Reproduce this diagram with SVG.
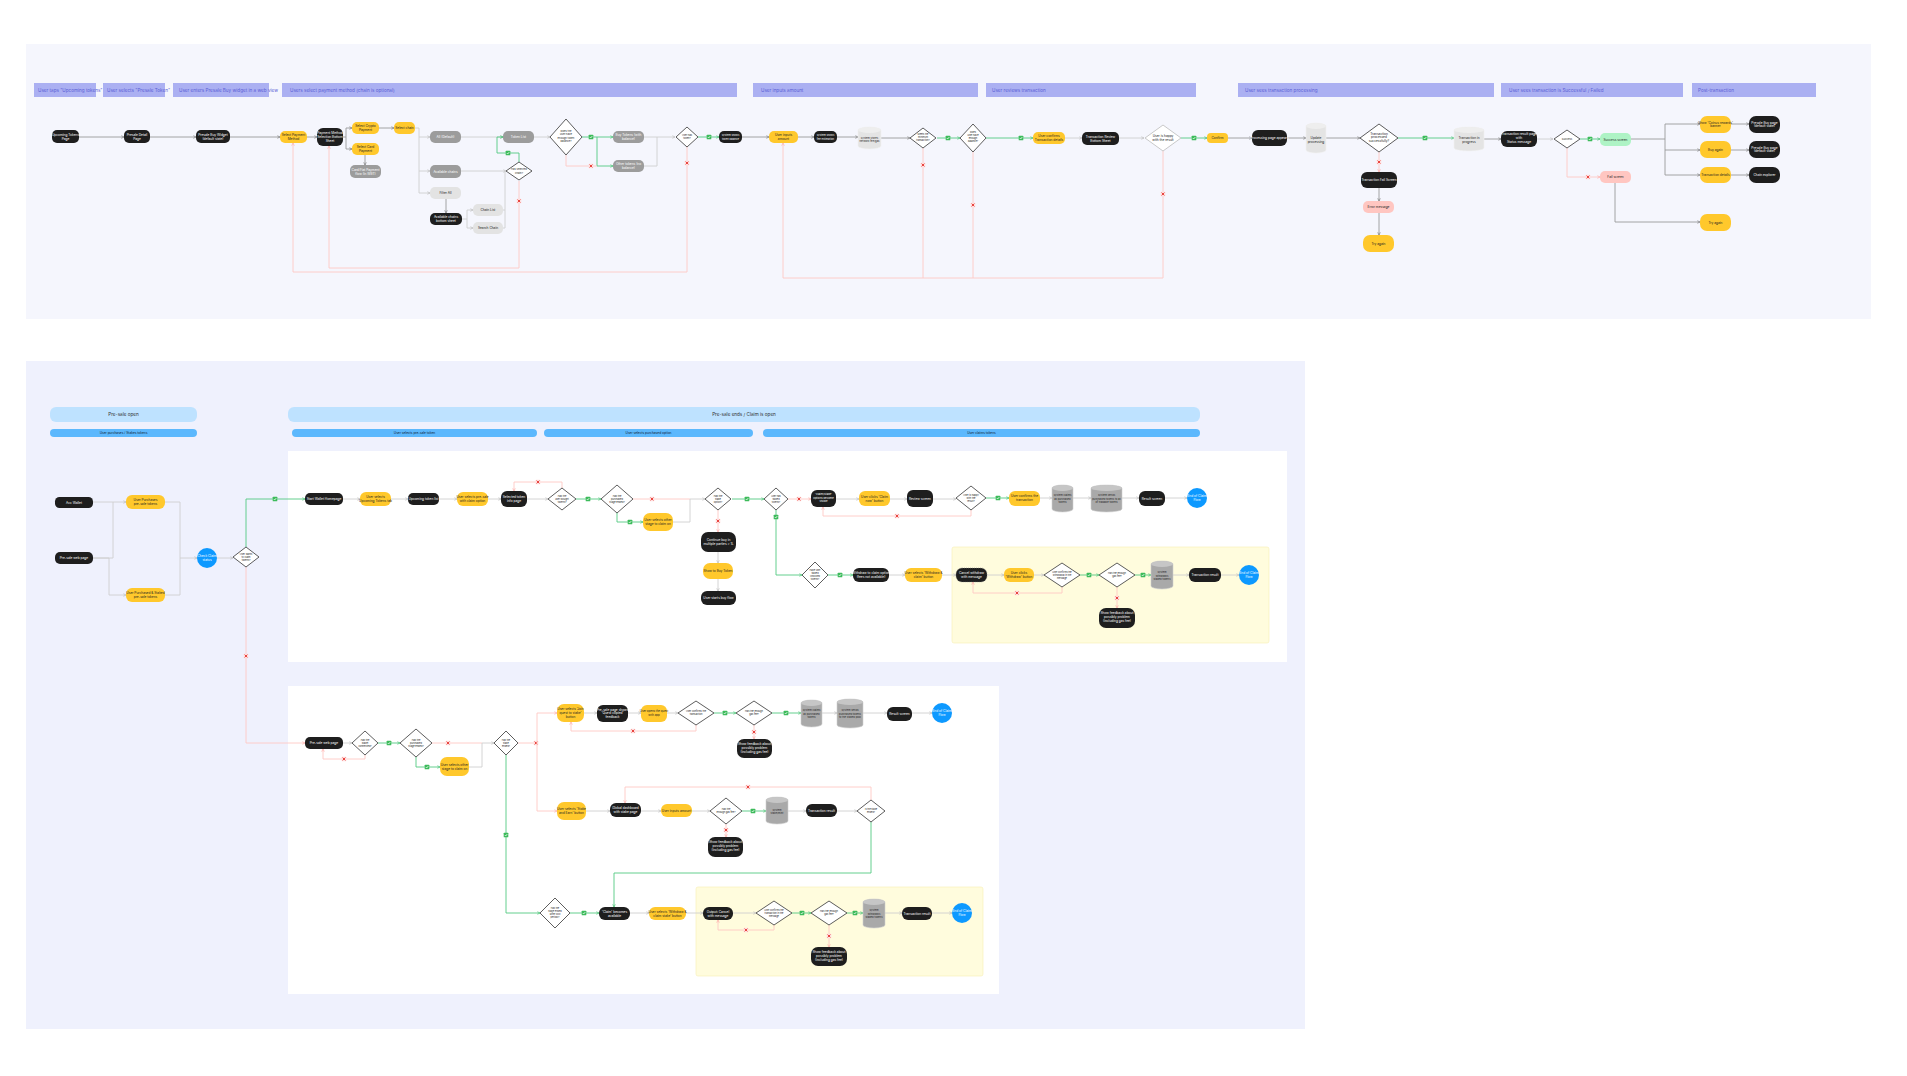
<svg xmlns="http://www.w3.org/2000/svg" xmlns:xlink="http://www.w3.org/1999/xlink" width="1907" height="1076" viewBox="0 0 1907 1076">
<style>
text{font-family:Inter,'Liberation Sans',sans-serif;text-anchor:middle;font-size:3.2px}
.b{fill:#1e1e1e}.y{fill:#ffc82c}.g{fill:#9c9c9c}.lg{fill:#e3e3e3}.p{fill:#ffc6c1}.gr{fill:#aef3c5}
.tw{fill:#fff}.td{fill:#222}
.d{fill:#fff;stroke:#333;stroke-width:0.8}
.dl{fill:#fff;stroke:#bbb;stroke-width:0.8}
.cy{fill:#e4e4e4;stroke:#f2f2f2;stroke-width:0.6}
.cyd{fill:#a9a9a9;stroke:#d0d0d0;stroke-width:0.6}
.hb{fill:#abb0f2}.ht{fill:#5b60d6;font-size:4.6px;text-anchor:start}
.c{fill:none;stroke:#9a9a9a;stroke-width:0.9;marker-end:url(#ag)}
.cn{fill:none;stroke:#9a9a9a;stroke-width:0.9}
.cl{fill:none;stroke:#cfcfcf;stroke-width:0.9;marker-end:url(#al)}
.cln{fill:none;stroke:#cfcfcf;stroke-width:0.9}
.cg{fill:none;stroke:#54c982;stroke-width:0.9;marker-end:url(#agr)}
.cgn{fill:none;stroke:#54c982;stroke-width:0.9}
.cp{fill:none;stroke:#ffc8c4;stroke-width:0.9;marker-end:url(#ap)}
.cpn{fill:none;stroke:#ffc8c4;stroke-width:0.9}
</style>
<defs>
<marker id="ag" viewBox="0 0 6 6" refX="5.5" refY="3" markerWidth="4" markerHeight="4" orient="auto"><path d="M1 0.8 L5.5 3 L1 5.2" fill="none" stroke="#777" stroke-width="1"/></marker>
<marker id="al" viewBox="0 0 6 6" refX="5.5" refY="3" markerWidth="4" markerHeight="4" orient="auto"><path d="M1 0.8 L5.5 3 L1 5.2" fill="none" stroke="#bbb" stroke-width="1"/></marker>
<marker id="agr" viewBox="0 0 6 6" refX="5.5" refY="3" markerWidth="4" markerHeight="4" orient="auto"><path d="M1 0.8 L5.5 3 L1 5.2" fill="none" stroke="#3fbf6c" stroke-width="1"/></marker>
<marker id="ap" viewBox="0 0 6 6" refX="5.5" refY="3" markerWidth="4" markerHeight="4" orient="auto"><path d="M1 0.8 L5.5 3 L1 5.2" fill="none" stroke="#ffa8a2" stroke-width="1"/></marker>
<g id="ok"><rect x="-2.3" y="-2.3" width="4.6" height="4.6" rx="0.6" fill="#3dbb5b"/><path d="M-1.2 0 L-0.3 1 L1.3 -1" stroke="#fff" stroke-width="0.7" fill="none"/></g>
<g id="no"><rect x="-2.3" y="-2.3" width="4.6" height="4.6" rx="0.6" fill="#ffe0e0"/><path d="M-1.4 -1.4 L1.4 1.4 M1.4 -1.4 L-1.4 1.4" stroke="#e5332e" stroke-width="0.9"/></g>
</defs>
<rect width="1907" height="1076" fill="#fff"/>
<rect x="26" y="44" width="1845" height="275" fill="#f5f6fd"/>
<rect x="26" y="361" width="1279" height="668" fill="#eff1fd"/>

<g id="headers-top">
<rect class="hb" x="34" y="83" width="62" height="14"/><text class="ht" x="38" y="91.6">User taps "Upcoming tokens" tab</text>
<rect class="hb" x="103" y="83" width="62" height="14"/><text class="ht" x="107" y="91.6">User selects "Presale Token"</text>
<rect class="hb" x="173" y="83" width="96" height="14"/><text class="ht" x="179" y="91.6">User enters Presale Buy widget in a web view</text>
<rect class="hb" x="282" y="83" width="455" height="14"/><text class="ht" x="290" y="91.6">Users select payment method (chain is optional)</text>
<rect class="hb" x="753" y="83" width="225" height="14"/><text class="ht" x="761" y="91.6">User inputs amount</text>
<rect class="hb" x="986" y="83" width="210" height="14"/><text class="ht" x="992" y="91.6">User reviews transaction</text>
<rect class="hb" x="1238" y="83" width="256" height="14"/><text class="ht" x="1245" y="91.6">User sees transaction processing</text>
<rect class="hb" x="1501" y="83" width="182" height="14"/><text class="ht" x="1509" y="91.6">User sees transaction is Successful / Failed</text>
<rect class="hb" x="1692" y="83" width="124" height="14"/><text class="ht" x="1698" y="91.6">Post-transaction</text>
</g>

<g id="connectors-top">
<path class="c" d="M79 137H124"/><path class="c" d="M150 137H196"/><path class="c" d="M230 137H280"/><path class="c" d="M307 137H317"/>
<path class="c" d="M343 137H346V128H352"/><path class="c" d="M346 137V149H352"/>
<path class="c" d="M379 128H394"/><path class="c" d="M365 155V165"/>
<path class="cl" d="M415 128H419V137H430"/><path class="cl" d="M419 137V171H430"/><path class="cl" d="M419 171V193H430"/>
<path class="cl" d="M461 137H503"/><path class="cl" d="M461 171H506"/><path class="c" d="M446 199V213"/>
<path class="cl" d="M462 219H467V210H473"/><path class="cl" d="M467 219V228H473"/><path class="cln" d="M503 228H505V172"/><path class="cln" d="M503 210H505"/>
<path class="cg" d="M519 162V153H497V137H503"/><use href="#ok" x="508" y="153"/>
<path class="cp" d="M519 181V268H329V146"/><use href="#no" x="519" y="201"/>
<path class="cl" d="M534 137H550"/>
<path class="cg" d="M582 137H613"/><use href="#ok" x="591" y="137"/>
<path class="cg" d="M597 137V166H613"/><path class="cpn" d="M566 155V166H597"/><use href="#no" x="591" y="166"/>
<path class="cl" d="M644 137H675"/><path class="cln" d="M644 166H657V137"/>
<path class="cg" d="M698 137H719"/><use href="#ok" x="709" y="137"/>
<path class="cp" d="M687 146V272H293V143"/><use href="#no" x="687" y="163"/>
<path class="c" d="M742 137H769"/><path class="c" d="M798 137H814"/><path class="c" d="M837 137H858"/><path class="c" d="M881 138H910"/>
<path class="cg" d="M937 138H960"/><use href="#ok" x="948" y="138"/>
<path class="cp" d="M923 148V278H783V143"/><path class="cpn" d="M973 151V278H923"/><path class="cpn" d="M1163 151V278H973"/>
<use href="#no" x="923" y="165"/><use href="#no" x="973" y="205"/><use href="#no" x="1163" y="194"/>
<path class="cg" d="M986 138H1033"/><use href="#ok" x="1021" y="138"/>
<path class="cl" d="M1065 138H1082"/><path class="cl" d="M1119 138H1144"/>
<path class="cg" d="M1181 138H1207"/><use href="#ok" x="1194" y="138"/>
<path class="c" d="M1228 138H1252"/><path class="c" d="M1287 138H1306"/><path class="c" d="M1326 138H1360"/>
<path class="cg" d="M1398 138H1454"/><use href="#ok" x="1425" y="138"/>
<path class="cp" d="M1379 152V172"/><use href="#no" x="1379" y="162"/>
<path class="c" d="M1379 188V201"/><path class="c" d="M1379 213V235"/>
<path class="c" d="M1484 139H1501"/><path class="cl" d="M1537 139H1553"/>
<path class="cg" d="M1580 139H1600"/><use href="#ok" x="1590" y="139"/>
<path class="cp" d="M1567 148V177H1600"/><use href="#no" x="1588" y="177"/>
<path class="cn" d="M1631 139H1665"/><path class="c" d="M1665 139V124H1700"/><path class="c" d="M1665 139V150H1700"/><path class="c" d="M1665 150V175H1700"/>
<path class="c" d="M1731 124H1749"/><path class="c" d="M1731 150H1749"/><path class="c" d="M1731 175H1749"/>
<path class="c" d="M1615 183V222H1700"/>
</g>

<g id="nodes-top">
<g id="t-upcoming"><rect class="b" x="52" y="130" width="27" height="13" rx="5"/><text class="tw" x="65.5" y="135.8">Upcoming Tokens</text><text class="tw" x="65.5" y="139.6">Page</text></g>
<g id="t-detail"><rect class="b" x="124" y="130" width="26" height="13" rx="5"/><text class="tw" x="137" y="135.8">Presale Detail</text><text class="tw" x="137" y="139.6">Page</text></g>
<g id="t-widget"><rect class="b" x="196" y="130" width="34" height="13" rx="5"/><text class="tw" x="213" y="135.8">Presale Buy Widget</text><text class="tw" x="213" y="139.6">(default state)</text></g>
<g id="t-selpay"><rect class="y" x="280" y="131" width="27" height="12" rx="5"/><text class="td" x="293.5" y="136.3">Select Payment</text><text class="td" x="293.5" y="140.1">Method</text></g>
<g id="t-sheet"><rect class="b" x="317" y="128" width="26" height="18" rx="6"/><text class="tw" x="330" y="134">Payment Method</text><text class="tw" x="330" y="137.8">Selection Bottom</text><text class="tw" x="330" y="141.6">Sheet</text></g>
<g id="t-crypto"><rect class="y" x="352" y="122" width="27" height="12" rx="5"/><text class="td" x="365.5" y="127.3">Select Crypto</text><text class="td" x="365.5" y="131.1">Payment</text></g>
<g id="t-card"><rect class="y" x="352" y="143" width="27" height="12" rx="5"/><text class="td" x="365.5" y="148.3">Select Card</text><text class="td" x="365.5" y="152.1">Payment</text></g>
<g id="t-fiat"><rect class="g" x="350" y="165" width="31" height="13" rx="5"/><text class="tw" x="365.5" y="170.8">Card/Fiat Payment</text><text class="tw" x="365.5" y="174.6">flow (in WBT)</text></g>
<g id="t-chain"><rect class="y" x="394" y="122" width="21" height="12" rx="5"/><text class="td" x="404.5" y="129.2">Select chain</text></g>
<g id="t-all"><rect class="g" x="430" y="131" width="31" height="12" rx="5"/><text class="tw" x="445.5" y="138.2">All (Default)</text></g>
<g id="t-avail"><rect class="g" x="430" y="165" width="31" height="13" rx="5"/><text class="tw" x="445.5" y="172.7">Available chains</text></g>
<g id="t-filter"><rect class="lg" x="430" y="187" width="31" height="12" rx="5"/><text class="td" x="445.5" y="194.2">Filter All</text></g>
<g id="t-availsheet"><rect class="b" x="430" y="213" width="32" height="12" rx="5"/><text class="tw" x="446" y="218.3">Available chains</text><text class="tw" x="446" y="222.1">bottom sheet</text></g>
<g id="t-chainlist"><rect class="lg" x="473" y="204" width="30" height="12" rx="5"/><text class="td" x="488" y="211.2">Chain List</text></g>
<g id="t-search"><rect class="lg" x="473" y="222" width="30" height="12" rx="5"/><text class="td" x="488" y="229.2">Search Chain</text></g>
<g id="t-tokenlist"><rect class="g" x="503" y="131" width="31" height="12" rx="5"/><text class="tw" x="518.5" y="138.2">Token List</text></g>
<g id="t-hassel"><path class="d" d="M519 162L532 171L519 180L506 171Z"/><text class="td" x="519" y="170.2" style="font-size:2.6px">Has selected</text><text class="td" x="519" y="173.6" style="font-size:2.6px">chain?</text></g>
<g id="t-enough"><path class="d" d="M566 119L582 137L566 155L550 137Z"/><text class="td" x="566" y="132" style="font-size:2.6px">Does the</text><text class="td" x="566" y="135.4" style="font-size:2.6px">user have</text><text class="td" x="566" y="138.8" style="font-size:2.6px">enough token</text><text class="td" x="566" y="142.2" style="font-size:2.6px">balance?</text></g>
<g id="t-buytok"><rect class="g" x="613" y="131" width="31" height="12" rx="5"/><text class="tw" x="628.5" y="136.3">Buy Tokens (with</text><text class="tw" x="628.5" y="140.1">balance)</text></g>
<g id="t-othertok"><rect class="g" x="613" y="160" width="31" height="12" rx="5"/><text class="tw" x="628.5" y="165.3">Other tokens (no</text><text class="tw" x="628.5" y="169.1">balance)</text></g>
<g id="t-hastok"><path class="d" d="M687 127L698 137L687 147L676 137Z"/><text class="td" x="687" y="136.2" style="font-size:2.4px">User has</text><text class="td" x="687" y="139.4" style="font-size:2.4px">token?</text></g>
<g id="t-showbal"><rect class="b" x="719" y="131" width="23" height="12" rx="5"/><text class="tw" x="730.5" y="136.3" style="font-size:2.6px">System shows</text><text class="tw" x="730.5" y="139.8" style="font-size:2.6px">token balance</text></g>
<g id="t-inputamt"><rect class="y" x="769" y="131" width="29" height="12" rx="5"/><text class="td" x="783.5" y="136.3">User inputs</text><text class="td" x="783.5" y="140.1">amount</text></g>
<g id="t-showfee"><rect class="b" x="814" y="131" width="23" height="12" rx="5"/><text class="tw" x="825.5" y="136.3" style="font-size:2.6px">System shows</text><text class="tw" x="825.5" y="139.8" style="font-size:2.6px">fee estimation</text></g>
<g id="t-storefee"><path class="cy" d="M858 130A11.5 3 0 0 1 881 130V146A11.5 3 0 0 1 858 146Z"/><ellipse cx="869.5" cy="130" rx="11.5" ry="3" fill="#eee"/><text class="td" x="869.5" y="138.5" style="font-size:2.6px">System stores</text><text class="td" x="869.5" y="142" style="font-size:2.6px">network fee/gas</text></g>
<g id="t-minimum"><path class="d" d="M923 128L936 138L923 148L910 138Z"/><text class="td" x="923" y="135.3" style="font-size:2.3px">Meets the</text><text class="td" x="923" y="138.3" style="font-size:2.3px">minimum</text><text class="td" x="923" y="141.3" style="font-size:2.3px">transaction?</text></g>
<g id="t-enoughbal"><path class="d" d="M973 124L986 138L973 152L960 138Z"/><text class="td" x="973" y="133.3" style="font-size:2.4px">Does</text><text class="td" x="973" y="136.3" style="font-size:2.4px">user have</text><text class="td" x="973" y="139.3" style="font-size:2.4px">enough</text><text class="td" x="973" y="142.3" style="font-size:2.4px">balance?</text></g>
<g id="t-confirmdet"><rect class="y" x="1033" y="132" width="32" height="12" rx="5"/><text class="td" x="1049" y="137.3">User confirms</text><text class="td" x="1049" y="141.1">Transaction details</text></g>
<g id="t-review"><rect class="b" x="1082" y="132" width="37" height="13" rx="5"/><text class="tw" x="1100.5" y="137.8">Transaction Review</text><text class="tw" x="1100.5" y="141.6">Bottom Sheet</text></g>
<g id="t-happy"><path class="dl" d="M1163 125L1181 138L1163 151L1145 138Z"/><text class="td" x="1163" y="137.2">User is happy</text><text class="td" x="1163" y="141">with the result</text></g>
<g id="t-confirm"><rect class="y" x="1207" y="133" width="21" height="10" rx="4"/><text class="td" x="1217.5" y="139.2">Confirm</text></g>
<g id="t-processing"><rect class="b" x="1252" y="130" width="35" height="16" rx="6"/><text class="tw" x="1269.5" y="139.2">Processing page appears</text></g>
<g id="t-update"><path class="cy" d="M1306 126A10 3 0 0 1 1326 126V150A10 3 0 0 1 1306 150Z"/><ellipse cx="1316" cy="126" rx="10" ry="3" fill="#eee"/><text class="td" x="1316" y="139">Update</text><text class="td" x="1316" y="142.8">processing</text></g>
<g id="t-processed"><path class="d" d="M1379 124L1398 138L1379 152L1360 138Z"/><text class="td" x="1379" y="134.6">Transaction</text><text class="td" x="1379" y="138.4">processed</text><text class="td" x="1379" y="142.2">successfully?</text></g>
<g id="t-failscr"><rect class="b" x="1361" y="172" width="36" height="16" rx="6"/><text class="tw" x="1379" y="181.2">Transaction Fail Screen</text></g>
<g id="t-errmsg"><rect class="p" x="1363" y="201" width="31" height="12" rx="5"/><text class="td" x="1378.5" y="208.2">Error message</text></g>
<g id="t-tryagain1"><rect class="y" x="1363" y="235" width="31" height="17" rx="7"/><text class="td" x="1378.5" y="244.6">Try again</text></g>
<g id="t-inprogress"><path class="cy" d="M1454 130A15 3 0 0 1 1484 130V148A15 3 0 0 1 1454 148Z"/><ellipse cx="1469" cy="130" rx="15" ry="3" fill="#eee"/><text class="td" x="1469" y="139.4">Transaction in</text><text class="td" x="1469" y="143.2">progress</text></g>
<g id="t-resultpage"><rect class="b" x="1501" y="131" width="36" height="16" rx="6"/><text class="tw" x="1519" y="135.4">Transaction result page</text><text class="tw" x="1519" y="139.2">with</text><text class="tw" x="1519" y="143">Status message</text></g>
<g id="t-success"><path class="d" d="M1567 130L1580 139L1567 148L1554 139Z"/><text class="td" x="1567" y="140" style="font-size:2.6px">Success</text></g>
<g id="t-successscr"><rect class="gr" x="1600" y="133" width="31" height="13" rx="5"/><text class="td" x="1615.5" y="140.6">Success screen</text></g>
<g id="t-failscr2"><rect class="p" x="1600" y="171" width="31" height="12" rx="5"/><text class="td" x="1615.5" y="178.2">Fail screen</text></g>
<g id="t-banner"><rect class="y" x="1700" y="116" width="31" height="17" rx="7"/><text class="td" x="1715.5" y="123.6">Show 'Coinus rewards'</text><text class="td" x="1715.5" y="127.4">banner</text></g>
<g id="t-buyagain"><rect class="y" x="1700" y="141" width="31" height="17" rx="7"/><text class="td" x="1715.5" y="150.6">Buy again</text></g>
<g id="t-txdetails"><rect class="y" x="1700" y="167" width="31" height="16" rx="7"/><text class="td" x="1715.5" y="176.2">Transaction details</text></g>
<g id="t-buypage1"><rect class="b" x="1749" y="116" width="31" height="17" rx="7"/><text class="tw" x="1764.5" y="123.6">Presale Buy page</text><text class="tw" x="1764.5" y="127.4">(default state)</text></g>
<g id="t-buypage2"><rect class="b" x="1749" y="141" width="31" height="17" rx="7"/><text class="tw" x="1764.5" y="148.6">Presale Buy page</text><text class="tw" x="1764.5" y="152.4">(default state)</text></g>
<g id="t-explorer"><rect class="b" x="1749" y="167" width="31" height="16" rx="7"/><text class="tw" x="1764.5" y="176.2">Chain explorer</text></g>
<g id="t-tryagain2"><rect class="y" x="1700" y="214" width="31" height="17" rx="7"/><text class="td" x="1715.5" y="223.6">Try again</text></g>
</g>

<g id="headers-bottom">
<rect x="50" y="407" width="147" height="15" rx="6" fill="#bee2ff"/><text x="123.5" y="416.3" style="font-size:4.6px;fill:#333">Pre-sale open</text>
<rect x="288" y="407" width="912" height="15" rx="6" fill="#bee2ff"/><text x="744" y="416.3" style="font-size:4.6px;fill:#333">Pre-sale ends / Claim is open</text>
<rect x="50" y="429" width="147" height="8" rx="4" fill="#5cb8fd"/><text x="123.5" y="434.2" style="fill:#123">User purchases / Stakes tokens</text>
<rect x="292" y="429" width="245" height="8" rx="4" fill="#5cb8fd"/><text x="414.5" y="434.2" style="fill:#123">User selects pre-sale token</text>
<rect x="544" y="429" width="209" height="8" rx="4" fill="#5cb8fd"/><text x="648.5" y="434.2" style="fill:#123">User selects purchased option</text>
<rect x="763" y="429" width="437" height="8" rx="4" fill="#5cb8fd"/><text x="981.5" y="434.2" style="fill:#123">User claims tokens</text>
</g>
<rect x="288" y="451" width="999" height="211" fill="#fff"/>
<rect x="288" y="686" width="711" height="308" fill="#fff"/>
<rect x="952" y="547" width="317" height="96" rx="2" fill="#fffcdd" stroke="#f6efb4" stroke-width="0.6"/>
<rect x="696" y="887" width="287" height="89" rx="2" fill="#fffcdd" stroke="#f6efb4" stroke-width="0.6"/>

<g id="connectors-bottom">
<path class="cl" d="M93 502H126"/><path class="cln" d="M93 558H113V502"/><path class="cl" d="M93 558H109V595H126"/>
<path class="cln" d="M165 502H180V558"/><path class="cl" d="M165 595H180V558H197"/>
<path class="cl" d="M217 558H233"/>
<path class="cg" d="M246 547V499H305"/><use href="#ok" x="275" y="499"/>
<path class="cp" d="M246 567V743H305"/><use href="#no" x="246" y="656"/>
<path class="cl" d="M343 499H360"/><path class="cl" d="M391 499H408"/><path class="cl" d="M439 499H457"/><path class="cl" d="M488 499H501"/><path class="cl" d="M527 499H548"/>
<path class="cp" d="M562 488V482H514V491"/><use href="#no" x="538" y="482"/>
<path class="cg" d="M576 499H601"/><use href="#ok" x="588" y="499"/>
<path class="cpn" d="M633 499H690"/><use href="#no" x="652" y="499"/><path class="cl" d="M673 522H690V499H705"/>
<path class="cg" d="M617 513V522H643"/><use href="#ok" x="630" y="522"/>
<path class="cp" d="M718 510V532"/><use href="#no" x="718" y="521"/>
<path class="cl" d="M718 552V563"/><path class="cl" d="M718 579V591"/>
<path class="cg" d="M732 499H764"/><use href="#ok" x="747" y="499"/>
<path class="cp" d="M788 499H811"/><use href="#no" x="799" y="499"/>
<path class="cl" d="M836 499H859"/><path class="cl" d="M890 499H907"/><path class="cl" d="M933 499H956"/>
<path class="cp" d="M971 510V516H823V507"/><use href="#no" x="897" y="516"/>
<path class="cg" d="M986 498H1009"/><use href="#ok" x="998" y="498"/>
<path class="cl" d="M1040 498H1052"/><path class="cl" d="M1073 498H1091"/><path class="cl" d="M1122 498H1139"/><path class="cl" d="M1165 498H1187"/>
<path class="cg" d="M776 510V575H802"/><use href="#ok" x="776" y="517"/>
<path class="cg" d="M828 575H853"/><use href="#ok" x="840" y="575"/>
<path class="cl" d="M889 575H905"/><path class="cl" d="M942 575H956"/><path class="cl" d="M987 575H1004"/><path class="cl" d="M1034 575H1044"/>
<path class="cp" d="M1062 587V593H973V582"/><use href="#no" x="1017" y="593"/>
<path class="cg" d="M1080 575H1099"/><use href="#ok" x="1089" y="575"/>
<path class="cg" d="M1135 575H1151"/><use href="#ok" x="1143" y="575"/>
<path class="cp" d="M1117 587V608"/><use href="#no" x="1117" y="598"/>
<path class="cl" d="M1173 575H1189"/><path class="cl" d="M1221 575H1239"/>

<path class="cl" d="M343 743H352"/>
<path class="cp" d="M365 755V759H323V749"/><use href="#no" x="344" y="759"/>
<path class="cg" d="M378 743H400"/><use href="#ok" x="389" y="743"/>
<path class="cpn" d="M432 743H482"/><use href="#no" x="448" y="743"/><path class="cl" d="M469 767H482V743H494"/>
<path class="cg" d="M416 757V767H440"/><use href="#ok" x="427" y="767"/>
<path class="cpn" d="M518 743H537"/><use href="#no" x="536" y="743"/><path class="cp" d="M537 743V713H557"/><path class="cp" d="M537 743V811H557"/>
<path class="cl" d="M584 713H597"/><path class="cl" d="M628 713H641"/><path class="cl" d="M667 713H678"/>
<path class="cp" d="M696 725V731H571V722"/><use href="#no" x="633" y="731"/>
<path class="cg" d="M714 713H736"/><use href="#ok" x="725" y="713"/>
<path class="cp" d="M754 725V739"/><use href="#no" x="754" y="732"/>
<path class="cg" d="M772 713H801"/><use href="#ok" x="786" y="713"/>
<path class="cl" d="M822 713H837"/><path class="cl" d="M863 713H887"/><path class="cl" d="M912 713H932"/>
<path class="cl" d="M586 811H610"/><path class="cl" d="M641 811H661"/><path class="cl" d="M692 811H710"/>
<path class="cp" d="M726 824V837"/><use href="#no" x="726" y="830"/>
<path class="cg" d="M742 811H766"/><use href="#ok" x="753" y="811"/>
<path class="cl" d="M788 811H806"/><path class="cl" d="M837 811H857"/>
<path class="cp" d="M871 800V787H625V803"/><use href="#no" x="748" y="787"/>
<path class="cg" d="M871 822V873H614V907"/>
<path class="cg" d="M506 755V913H540"/><use href="#ok" x="506" y="835"/>
<path class="cg" d="M570 913H599"/><use href="#ok" x="584" y="913"/>
<path class="cl" d="M630 913H649"/><path class="cl" d="M686 913H703"/><path class="cl" d="M733 913H756"/>
<path class="cp" d="M774 925V930H718V920"/><use href="#no" x="746" y="930"/>
<path class="cg" d="M792 913H811"/><use href="#ok" x="802" y="913"/>
<path class="cp" d="M829 925V947"/><use href="#no" x="829" y="936"/>
<path class="cg" d="M847 913H863"/><use href="#ok" x="855" y="913"/>
<path class="cl" d="M885 913H902"/><path class="cl" d="M932 913H952"/>
</g>

<g id="nodes-bottom">
<g id="b-wallet"><rect class="b" x="55" y="497" width="38" height="11" rx="4.5"/><text class="tw" x="74" y="503.6">Acc Wallet</text></g>
<g id="b-web"><rect class="b" x="55" y="552" width="38" height="12" rx="5"/><text class="tw" x="74" y="559.2">Pre-sale web page</text></g>
<g id="b-purch"><rect class="y" x="126" y="495" width="39" height="14" rx="6"/><text class="td" x="145.5" y="501.3">User Purchases</text><text class="td" x="145.5" y="505.1">pre-sale tokens</text></g>
<g id="b-staked"><rect class="y" x="126" y="588" width="39" height="14" rx="6"/><text class="td" x="145.5" y="594.3">User Purchased &amp; Staked</text><text class="td" x="145.5" y="598.1">pre-sale tokens</text></g>
<g id="b-check"><circle cx="207" cy="558" r="10" fill="#0d99ff"/><text class="tw" x="207" y="557.2">Check Claim</text><text class="tw" x="207" y="561">status</text></g>
<g id="b-wants"><path class="d" d="M246 547L259 557L246 567L233 557Z"/><text class="td" x="246" y="554.6" style="font-size:2.4px">User wants</text><text class="td" x="246" y="557.6" style="font-size:2.4px">to claim</text><text class="td" x="246" y="560.6" style="font-size:2.4px">tokens?</text></g>
<g id="b-home"><rect class="b" x="305" y="493" width="38" height="12" rx="5"/><text class="tw" x="324" y="500.2">Start Wallet Homepage</text></g>
<g id="b-seltab"><rect class="y" x="360" y="492" width="31" height="14" rx="6"/><text class="td" x="375.5" y="498.3">User selects</text><text class="td" x="375.5" y="502.1">Upcoming Tokens tab</text></g>
<g id="b-list"><rect class="b" x="408" y="493" width="31" height="12" rx="5"/><text class="tw" x="423.5" y="500.2">Upcoming token list</text></g>
<g id="b-selpre"><rect class="y" x="457" y="492" width="31" height="14" rx="6"/><text class="td" x="472.5" y="498.3">User selects pre-sale</text><text class="td" x="472.5" y="502.1">with claim option</text></g>
<g id="b-info"><rect class="b" x="501" y="491" width="26" height="16" rx="6"/><text class="tw" x="514" y="498.3">Selected token</text><text class="tw" x="514" y="502.1">info page</text></g>
<g id="b-dA"><path class="d" d="M562 488L576 499L562 510L548 499Z"/><text class="td" x="562" y="496.6" style="font-size:2.4px">Has the</text><text class="td" x="562" y="499.6" style="font-size:2.4px">user bought</text><text class="td" x="562" y="502.6" style="font-size:2.4px">tokens?</text></g>
<g id="b-dB"><path class="d" d="M617 485L633 499L617 513L601 499Z"/><text class="td" x="617" y="496.6" style="font-size:2.4px">Has the</text><text class="td" x="617" y="499.6" style="font-size:2.4px">purchased</text><text class="td" x="617" y="502.6" style="font-size:2.4px">stage ended?</text></g>
<g id="b-other"><rect class="y" x="643" y="513" width="30" height="18" rx="7"/><text class="td" x="658" y="521.3">User selects other</text><text class="td" x="658" y="525.1">stage to claim on</text></g>
<g id="b-dC"><path class="d" d="M718 488L731 499L718 510L705 499Z"/><text class="td" x="718" y="496.6" style="font-size:2.4px">Has the</text><text class="td" x="718" y="499.6" style="font-size:2.4px">stake</text><text class="td" x="718" y="502.6" style="font-size:2.4px">option?</text></g>
<g id="b-continue"><rect class="b" x="701" y="532" width="35" height="20" rx="7"/><text class="tw" x="718.5" y="541.3">Continue buy in</text><text class="tw" x="718.5" y="545.1">multiple parties &gt; 1L</text></g>
<g id="b-showbuy"><rect class="y" x="703" y="563" width="30" height="16" rx="7"/><text class="td" x="718" y="572.2">Show to Buy Token</text></g>
<g id="b-startbuy"><rect class="b" x="701" y="591" width="35" height="14" rx="6"/><text class="tw" x="718.5" y="599.2">User starts buy flow</text></g>
<g id="b-dD"><path class="d" d="M776 488L788 499L776 510L764 499Z"/><text class="td" x="776" y="496.6" style="font-size:2.3px">User has</text><text class="td" x="776" y="499.6" style="font-size:2.3px">staked</text><text class="td" x="776" y="502.6" style="font-size:2.3px">tokens?</text></g>
<g id="b-claimopt"><rect class="b" x="811" y="490" width="25" height="17" rx="6"/><text class="tw" x="823.5" y="495.4" style="font-size:2.7px">'Claim/Stake'</text><text class="tw" x="823.5" y="498.8" style="font-size:2.7px">options become</text><text class="tw" x="823.5" y="502.2" style="font-size:2.7px">visible</text></g>
<g id="b-claimnow"><rect class="y" x="859" y="491" width="31" height="15" rx="6"/><text class="td" x="874.5" y="497.8">User clicks 'Claim</text><text class="td" x="874.5" y="501.6">now' button</text></g>
<g id="b-review"><rect class="b" x="907" y="490" width="26" height="17" rx="6"/><text class="tw" x="920" y="499.6">Review screen</text></g>
<g id="b-dE"><path class="d" d="M971 486L986 498L971 510L956 498Z"/><text class="td" x="971" y="495.6" style="font-size:2.4px">User is happy</text><text class="td" x="971" y="498.6" style="font-size:2.4px">with the</text><text class="td" x="971" y="501.6" style="font-size:2.4px">result?</text></g>
<g id="b-confirm"><rect class="y" x="1009" y="491" width="31" height="15" rx="6"/><text class="td" x="1024.5" y="497.3">User confirms the</text><text class="td" x="1024.5" y="501.1">transaction</text></g>
<g id="b-cyA"><path class="cyd" d="M1052 488A10.5 3 0 0 1 1073 488V509A10.5 3 0 0 1 1052 509Z"/><ellipse cx="1062.5" cy="488" rx="10.5" ry="3" fill="#c6c6c6"/><text class="td" x="1062.5" y="496.4" style="font-size:2.6px">System claims</text><text class="td" x="1062.5" y="499.8" style="font-size:2.6px">all purchased</text><text class="td" x="1062.5" y="503.2" style="font-size:2.6px">tokens</text></g>
<g id="b-cyB"><path class="cyd" d="M1091 488A15.5 3 0 0 1 1122 488V509A15.5 3 0 0 1 1091 509Z"/><ellipse cx="1106.5" cy="488" rx="15.5" ry="3" fill="#c6c6c6"/><text class="td" x="1106.5" y="496.4" style="font-size:2.6px">System sends</text><text class="td" x="1106.5" y="499.8" style="font-size:2.6px">purchased tokens to all</text><text class="td" x="1106.5" y="503.2" style="font-size:2.6px">of tradable tokens</text></g>
<g id="b-result1"><rect class="b" x="1139" y="491" width="26" height="15" rx="6"/><text class="tw" x="1152" y="499.6">Result screen</text></g>
<g id="b-end1"><circle cx="1197" cy="498" r="10" fill="#0d99ff"/><text class="tw" x="1197" y="497.2">End of Claim</text><text class="tw" x="1197" y="501">Flow</text></g>
<g id="b-dF"><path class="d" d="M815 562L828 575L815 588L802 575Z"/><text class="td" x="815" y="571.2" style="font-size:2.3px">Have user</text><text class="td" x="815" y="574.2" style="font-size:2.3px">staked</text><text class="td" x="815" y="577.2" style="font-size:2.3px">unlocked</text><text class="td" x="815" y="580.2" style="font-size:2.3px">tokens?</text></g>
<g id="b-withdrawopt"><rect class="b" x="853" y="568" width="36" height="14" rx="6"/><text class="tw" x="871" y="574.3">Withdraw to claim option</text><text class="tw" x="871" y="578.1">(fees not available)</text></g>
<g id="b-selwithdraw"><rect class="y" x="905" y="568" width="37" height="14" rx="6"/><text class="td" x="923.5" y="574.3">User selects 'Withdraw &amp;</text><text class="td" x="923.5" y="578.1">claim' button</text></g>
<g id="b-cancel"><rect class="b" x="956" y="568" width="31" height="14" rx="6" stroke="#888" stroke-width="0.5" stroke-dasharray="1 1"/><text class="tw" x="971.5" y="574.3">Cancel withdraw</text><text class="tw" x="971.5" y="578.1">with message</text></g>
<g id="b-clickwithdraw"><rect class="y" x="1004" y="568" width="30" height="14" rx="6"/><text class="td" x="1019" y="574.3">User clicks</text><text class="td" x="1019" y="578.1">'Withdraw' button</text></g>
<g id="b-dG"><path class="d" d="M1062 563L1080 575L1062 587L1044 575Z"/><text class="td" x="1062" y="572.6" style="font-size:2.3px">User confirms the</text><text class="td" x="1062" y="575.6" style="font-size:2.3px">withdrawal in the</text><text class="td" x="1062" y="578.6" style="font-size:2.3px">message</text></g>
<g id="b-dH"><path class="d" d="M1117 563L1135 575L1117 587L1099 575Z"/><text class="td" x="1117" y="574.1" style="font-size:2.4px">Has the enough</text><text class="td" x="1117" y="577.3" style="font-size:2.4px">gas fee?</text></g>
<g id="b-cyC"><path class="cyd" d="M1151 564A11 3 0 0 1 1173 564V586A11 3 0 0 1 1151 586Z"/><ellipse cx="1162" cy="564" rx="11" ry="3" fill="#c6c6c6"/><text class="td" x="1162" y="573.4" style="font-size:2.6px">System</text><text class="td" x="1162" y="576.8" style="font-size:2.6px">withdraws</text><text class="td" x="1162" y="580.2" style="font-size:2.6px">staked tokens</text></g>
<g id="b-feedback1"><rect class="b" x="1099" y="608" width="36" height="20" rx="7"/><text class="tw" x="1117" y="614.4">Show feedback about</text><text class="tw" x="1117" y="618.2">possibly problem</text><text class="tw" x="1117" y="622">(including gas fee)</text></g>
<g id="b-txres1"><rect class="b" x="1189" y="568" width="32" height="14" rx="6"/><text class="tw" x="1205" y="576.2">Transaction result</text></g>
<g id="b-end2"><circle cx="1249" cy="575" r="10" fill="#0d99ff"/><text class="tw" x="1249" y="574.2">End of Claim</text><text class="tw" x="1249" y="578">Flow</text></g>

<g id="s-web"><rect class="b" x="305" y="737" width="38" height="12" rx="5"/><text class="tw" x="324" y="744.2">Pre-sale web page</text></g>
<g id="s-dI"><path class="d" d="M365 731L378 743L365 755L352 743Z"/><text class="td" x="365" y="740.6" style="font-size:2.4px">Has the</text><text class="td" x="365" y="743.6" style="font-size:2.4px">wallet</text><text class="td" x="365" y="746.6" style="font-size:2.4px">connected?</text></g>
<g id="s-dJ"><path class="d" d="M416 729L432 743L416 757L400 743Z"/><text class="td" x="416" y="740.6" style="font-size:2.4px">Has the</text><text class="td" x="416" y="743.6" style="font-size:2.4px">purchased</text><text class="td" x="416" y="746.6" style="font-size:2.4px">stage ended?</text></g>
<g id="s-other"><rect class="y" x="440" y="757" width="29" height="19" rx="7"/><text class="td" x="454.5" y="765.8">User selects other</text><text class="td" x="454.5" y="769.6">stage to claim on</text></g>
<g id="s-dK"><path class="d" d="M506 731L518 743L506 755L494 743Z"/><text class="td" x="506" y="740.6" style="font-size:2.3px">Has the</text><text class="td" x="506" y="743.6" style="font-size:2.3px">stake</text><text class="td" x="506" y="746.6" style="font-size:2.3px">ended?</text></g>
<g id="s-join"><rect class="y" x="557" y="704" width="27" height="18" rx="7"/><text class="td" x="570.5" y="710">User selects 'Join</text><text class="td" x="570.5" y="713.8">quest to stake'</text><text class="td" x="570.5" y="717.6">button</text></g>
<g id="s-copied"><rect class="b" x="597" y="705" width="31" height="17" rx="6"/><text class="tw" x="612.5" y="710.5">Pre-sale page shows</text><text class="tw" x="612.5" y="714.3">'Quest copied'</text><text class="tw" x="612.5" y="718.1">feedback</text></g>
<g id="s-opens"><rect class="y" x="641" y="705" width="26" height="17" rx="6"/><text class="td" x="654" y="712.4" style="font-size:2.8px">User opens the quest</text><text class="td" x="654" y="715.8" style="font-size:2.8px">with app</text></g>
<g id="s-dL"><path class="d" d="M696 701L714 713L696 725L678 713Z"/><text class="td" x="696" y="712.1" style="font-size:2.4px">User confirms the</text><text class="td" x="696" y="715.3" style="font-size:2.4px">transaction</text></g>
<g id="s-dN"><path class="d" d="M754 701L772 713L754 725L736 713Z"/><text class="td" x="754" y="712.1" style="font-size:2.4px">Has the enough</text><text class="td" x="754" y="715.3" style="font-size:2.4px">gas fee?</text></g>
<g id="s-feedback1"><rect class="b" x="737" y="739" width="35" height="19" rx="7"/><text class="tw" x="754.5" y="744.9">Show feedback about</text><text class="tw" x="754.5" y="748.7">possibly problem</text><text class="tw" x="754.5" y="752.5">(including gas fee)</text></g>
<g id="s-cyD"><path class="cyd" d="M801 703A10.5 3 0 0 1 822 703V724A10.5 3 0 0 1 801 724Z"/><ellipse cx="811.5" cy="703" rx="10.5" ry="3" fill="#c6c6c6"/><text class="td" x="811.5" y="711.4" style="font-size:2.6px">System claims</text><text class="td" x="811.5" y="714.8" style="font-size:2.6px">all purchased</text><text class="td" x="811.5" y="718.2" style="font-size:2.6px">tokens</text></g>
<g id="s-cyE"><path class="cyd" d="M837 702A13 3 0 0 1 863 702V725A13 3 0 0 1 837 725Z"/><ellipse cx="850" cy="702" rx="13" ry="3" fill="#c6c6c6"/><text class="td" x="850" y="711.4" style="font-size:2.6px">System sends</text><text class="td" x="850" y="714.8" style="font-size:2.6px">purchased tokens</text><text class="td" x="850" y="718.2" style="font-size:2.6px">to the staked pool</text></g>
<g id="s-result"><rect class="b" x="887" y="707" width="25" height="14" rx="6"/><text class="tw" x="899.5" y="715.2">Result screen</text></g>
<g id="s-end1"><circle cx="942" cy="713" r="10" fill="#0d99ff"/><text class="tw" x="942" y="712.2">End of Claim</text><text class="tw" x="942" y="716">Flow</text></g>
<g id="s-stake"><rect class="y" x="557" y="802" width="29" height="18" rx="7"/><text class="td" x="571.5" y="810.3">User selects 'Stake</text><text class="td" x="571.5" y="814.1">and Earn' button</text></g>
<g id="s-dash"><rect class="b" x="610" y="803" width="31" height="14" rx="6"/><text class="tw" x="625.5" y="809.3">Global dashboard</text><text class="tw" x="625.5" y="813.1">with stake page</text></g>
<g id="s-amount"><rect class="y" x="661" y="804" width="31" height="13" rx="6"/><text class="td" x="676.5" y="811.7">User inputs amount</text></g>
<g id="s-dO"><path class="d" d="M726 798L742 811L726 824L710 811Z"/><text class="td" x="726" y="810.1" style="font-size:2.4px">Has the</text><text class="td" x="726" y="813.3" style="font-size:2.4px">enough gas fee?</text></g>
<g id="s-feedback2"><rect class="b" x="708" y="837" width="35" height="20" rx="7"/><text class="tw" x="725.5" y="843.4">Show feedback about</text><text class="tw" x="725.5" y="847.2">possibly problem</text><text class="tw" x="725.5" y="851">(including gas fee)</text></g>
<g id="s-cyF"><path class="cyd" d="M766 800A11 3 0 0 1 788 800V821A11 3 0 0 1 766 821Z"/><ellipse cx="777" cy="800" rx="11" ry="3" fill="#c6c6c6"/><text class="td" x="777" y="810.6" style="font-size:2.6px">System</text><text class="td" x="777" y="814" style="font-size:2.6px">stake/mint</text></g>
<g id="s-txres1"><rect class="b" x="806" y="804" width="31" height="13" rx="6"/><text class="tw" x="821.5" y="811.7">Transaction result</text></g>
<g id="s-dQ"><path class="d" d="M871 800L885 811L871 822L857 811Z"/><text class="td" x="871" y="810.1" style="font-size:2.3px">Is the stake</text><text class="td" x="871" y="813.3" style="font-size:2.3px">ended?</text></g>
<g id="s-dM"><path class="d" d="M555 898L570 913L555 928L540 913Z"/><text class="td" x="555" y="909.1" style="font-size:2.3px">Has the</text><text class="td" x="555" y="912.1" style="font-size:2.3px">stake ended</text><text class="td" x="555" y="915.1" style="font-size:2.3px">(after lock</text><text class="td" x="555" y="918.1" style="font-size:2.3px">period)?</text></g>
<g id="s-claimavail"><rect class="b" x="599" y="907" width="31" height="13" rx="6"/><text class="tw" x="614.5" y="912.8">'Claim' becomes</text><text class="tw" x="614.5" y="916.6">available</text></g>
<g id="s-selwithdraw"><rect class="y" x="649" y="907" width="37" height="13" rx="6"/><text class="td" x="667.5" y="912.8">User selects 'Withdraw &amp;</text><text class="td" x="667.5" y="916.6">claim stake' button</text></g>
<g id="s-cancel"><rect class="b" x="703" y="907" width="30" height="13" rx="6"/><text class="tw" x="718" y="912.8">Output: Cancel</text><text class="tw" x="718" y="916.6">with message</text></g>
<g id="s-dR"><path class="d" d="M774 901L792 913L774 925L756 913Z"/><text class="td" x="774" y="910.6" style="font-size:2.3px">User confirms the</text><text class="td" x="774" y="913.6" style="font-size:2.3px">transaction in the</text><text class="td" x="774" y="916.6" style="font-size:2.3px">message</text></g>
<g id="s-dS"><path class="d" d="M829 901L847 913L829 925L811 913Z"/><text class="td" x="829" y="912.1" style="font-size:2.4px">Has the enough</text><text class="td" x="829" y="915.3" style="font-size:2.4px">gas fee?</text></g>
<g id="s-feedback3"><rect class="b" x="811" y="947" width="36" height="19" rx="7"/><text class="tw" x="829" y="952.9">Show feedback about</text><text class="tw" x="829" y="956.7">possibly problem</text><text class="tw" x="829" y="960.5">(including gas fee)</text></g>
<g id="s-cyG"><path class="cyd" d="M863 902A11 3 0 0 1 885 902V925A11 3 0 0 1 863 925Z"/><ellipse cx="874" cy="902" rx="11" ry="3" fill="#c6c6c6"/><text class="td" x="874" y="911.4" style="font-size:2.6px">System</text><text class="td" x="874" y="914.8" style="font-size:2.6px">withdraws</text><text class="td" x="874" y="918.2" style="font-size:2.6px">staked tokens</text></g>
<g id="s-txres2"><rect class="b" x="902" y="907" width="30" height="13" rx="6"/><text class="tw" x="917" y="914.7">Transaction result</text></g>
<g id="s-end2"><circle cx="962" cy="913" r="10" fill="#0d99ff"/><text class="tw" x="962" y="912.2">End of Claim</text><text class="tw" x="962" y="916">Flow</text></g>
</g>
</svg>
